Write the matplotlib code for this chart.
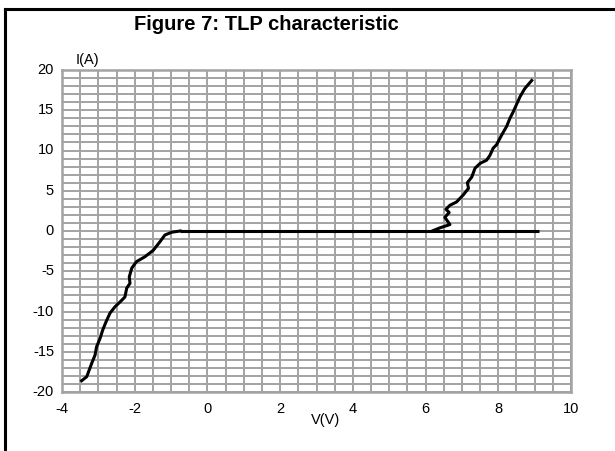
import numpy as np
import matplotlib
matplotlib.use("Agg")
import matplotlib.pyplot as plt
from matplotlib.lines import Line2D

plt.rcParams['font.family'] = ['Liberation Sans', 'DejaVu Sans']

# flat part at I = 0
flat_v = [-0.75, 9.12]
flat_i = [0.0, 0.0]

# negative branch
neg_v = [-3.46, -3.32, -3.18, -3.09, -3.05, -2.95, -2.88, -2.80, -2.68, -2.54,
         -2.40, -2.27, -2.22, -2.13, -2.15, -2.08, -1.95, -1.72, -1.49, -1.30,
         -1.17, -0.98, -0.75]
neg_i = [-18.6, -18.1, -16.4, -15.4, -14.4, -13.3, -12.3, -11.4, -10.2, -9.4,
         -8.8, -8.2, -7.1, -6.5, -5.7, -4.6, -3.8, -3.2, -2.4, -1.3,
         -0.5, -0.15, 0.0]

# positive branch (snapback)
pos_v = [6.21, 6.40, 6.67, 6.53, 6.65, 6.56, 6.67, 6.85, 7.04, 7.18, 7.15,
         7.27, 7.36, 7.50, 7.68, 7.77, 7.86, 7.95, 8.09, 8.23, 8.32, 8.41,
         8.50, 8.60, 8.73, 8.92]
pos_i = [0.05, 0.4, 0.8, 1.7, 2.3, 2.7, 3.2, 3.6, 4.5, 5.3, 6.0,
         6.7, 7.8, 8.4, 8.8, 9.4, 10.3, 10.7, 11.9, 13.0, 14.0, 14.8,
         15.7, 16.7, 17.7, 18.7]

x_ticks = [-4, -2, 0, 2, 4, 6, 8, 10]
y_ticks = [-20, -15, -10, -5, 0, 5, 10, 15, 20]

W, H = 615, 451
fig = plt.figure(figsize=(W / 100, H / 100), dpi=100)
ax = fig.add_axes([62 / W, 1 - 392 / H, (571 - 62) / W, (392 - 70) / H])

gray = '#a3a3a3'
ax.set_xlim(-4, 10)
ax.set_ylim(-20, 20)
ax.set_xticks(np.arange(-4, 10.01, 0.5))
ax.set_yticks(np.arange(-20, 20.01, 1))
ax.grid(True, color=gray, linewidth=1.4)
ax.set_axisbelow(True)
ax.tick_params(length=0, labelbottom=False, labelleft=False)
for s in ax.spines.values():
    s.set_color(gray)
    s.set_linewidth(1.8)

# tick labels as text so the grid can be finer than the labels
for v in x_ticks:
    ax.text(v, -21.3, str(v), ha='center', va='top', fontsize=10.5)
for i in y_ticks:
    ax.text(-4.22, i, str(i), ha='right', va='center', fontsize=10.5)

ax.plot(flat_v, flat_i, color='black', linewidth=2.2, solid_capstyle='butt')
ax.plot(neg_v, neg_i, color='black', linewidth=2.2)
ax.plot(pos_v, pos_i, color='black', linewidth=2.2)

fig.text(87 / W, 1 - 60 / H, 'I(A)', ha='center', va='center', fontsize=10.5)
fig.text(326 / W, 1 - 420 / H, 'V(V)', ha='center', va='center', fontsize=10.5)
fig.text(266 / W, 1 - 25 / H, 'Figure 7: TLP characteristic', ha='center',
         va='center', fontsize=14.5, fontweight='bold')

# outer frame (left and top edges visible)
fig.add_artist(Line2D([5 / W, 5 / W], [0, 1 - 9 / H], color='black', linewidth=2.2,
                      transform=fig.transFigure))
fig.add_artist(Line2D([5 / W, 1], [1 - 9 / H, 1 - 9 / H], color='black', linewidth=2.2,
                      transform=fig.transFigure))

fig.savefig('out.png', dpi=100)
